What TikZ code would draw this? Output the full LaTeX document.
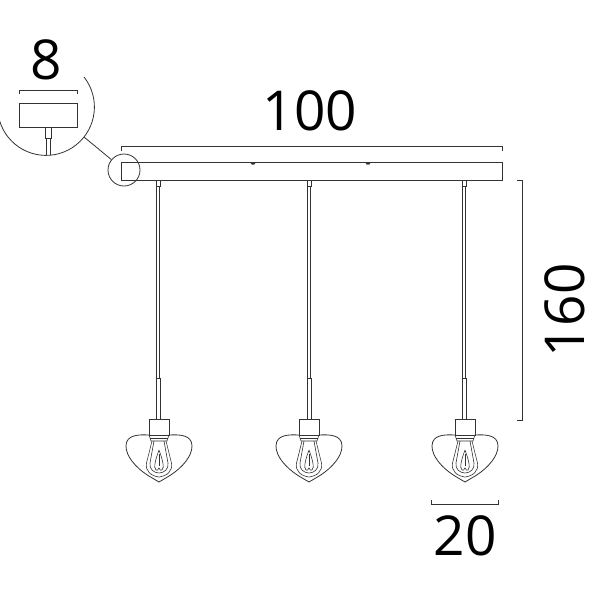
\documentclass[tikz,border=0pt]{standalone}
\usepackage{fontspec}
\setmainfont{Open Sans}
\usetikzlibrary{positioning}
\definecolor{ink}{gray}{0.2}
\tikzset{
  part/.style={draw=ink, line width=0.8pt},
  thin part/.style={draw=ink, line width=0.6pt},
  size label/.style={font=\fontsize{55}{55}\selectfont, text=black, inner sep=0pt},
  zoom ring/.style={circle, draw=ink, line width=0.8pt, minimum size=32pt, inner sep=0pt},
  bar box/.style={rectangle, draw=ink, line width=0.8pt, minimum width=380.5pt, minimum height=18pt, inner sep=0pt},
  box small/.style={rectangle, draw=ink, line width=0.8pt, minimum width=58pt, minimum height=24pt, inner sep=0pt}
}
\begin{document}
\begin{tikzpicture}[x=1pt,y=-1pt]
\useasboundingbox (0,0) rectangle (600,600);
% bar and its dimension
\node[bar box] (bar) at (311.75,171) {};
\draw[part] (121.5,150.5) -- (121.5,146) -- (502,146) -- (502,150.5);
\node[size label] (len) at (310,111) {100};
\fill[ink] (253,163.5) ellipse (2.2pt and 1.2pt);
\fill[ink] (368,163.5) ellipse (2.2pt and 1.2pt);
% detail
\node[zoom ring] (ring) at (124,170) {};
\coordinate (edge) at (84,137);
\draw[part] (edge) -- (ring);
\draw[part] (84,77) arc[start angle=38.3, end angle=-170, radius=48.4pt];
\node[box small] (box) at (48,115) {};
\draw[part] (19,94) -- (19,90) -- (77,90) -- (77,94);
\node[size label] (wid) at (46.5,60) {8};
\draw[thin part] (45,127) rectangle (51,138);
\draw[thin part] (46.5,138) -- (46.5,155) (49.8,138) -- (49.8,155);
% height and lamp width
\draw[part] (517,180) -- (522,180) -- (522,420) -- (517,420);
\node[size label, rotate=90] (hgt) at (564.5,310.5) {160};
\draw[part] (431,500) -- (431,504) -- (498,504) -- (498,500);
\node[size label] (lamp) at (465,536) {20};
% pendants
\foreach \cx/\sx in {159/158,309/309,465/464}{
  \draw[thin part] (\sx-2,180) rectangle (\sx+2,186);
  \draw[thin part] (\sx-1.5,186) -- (\sx-1.5,378) (\sx+1.5,186) -- (\sx+1.5,378);
  \draw[thin part] (\sx-2,378) -- (\sx+2,378);
  \draw[thin part] (\sx-2,378) -- (\sx-2,419) (\sx+2,378) -- (\sx+2,419);
  \begin{scope}[shift={(\cx,0)}]
    \draw[part] (-10,419) rectangle (10,435);
    \draw[thin part] (-10,435) -- (-8,441) -- (8,441) -- (10,435);
    \draw[thin part] (-9,438) -- (9,438);
    % shade
    \draw[part] (-10,435) .. controls (-20,434.5) and (-33,434.5) .. (-33,446)
      .. controls (-33,456) and (-24,467) .. (-11,475.5)
      -- (0,482) -- (11,475.5)
      .. controls (24,467) and (33,456) .. (33,446)
      .. controls (33,434.5) and (20,434.5) .. (10,435);
    % bulb
    \draw[thin part] (-7,441) -- (-12.5,463) .. controls (-14,471) and (-8,476) .. (0,477)
      .. controls (8,476) and (14,471) .. (12.5,463) -- (7,441);
    \draw[thin part] (-5,441) -- (-9,463) .. controls (-10,469) and (-5,473) .. (0,473)
      .. controls (5,473) and (10,469) .. (9,463) -- (5,441);
    \draw[thin part] (0,450) .. controls (-3,458) and (-6,468) .. (-3,470) .. controls (-2,471) and (-1,470) .. (0,468)
      .. controls (1,470) and (2,471) .. (3,470) .. controls (6,468) and (3,458) .. (0,450);
    \draw[thin part] (0,454) -- (0,466);
  \end{scope}
}
\end{tikzpicture}
\end{document}
